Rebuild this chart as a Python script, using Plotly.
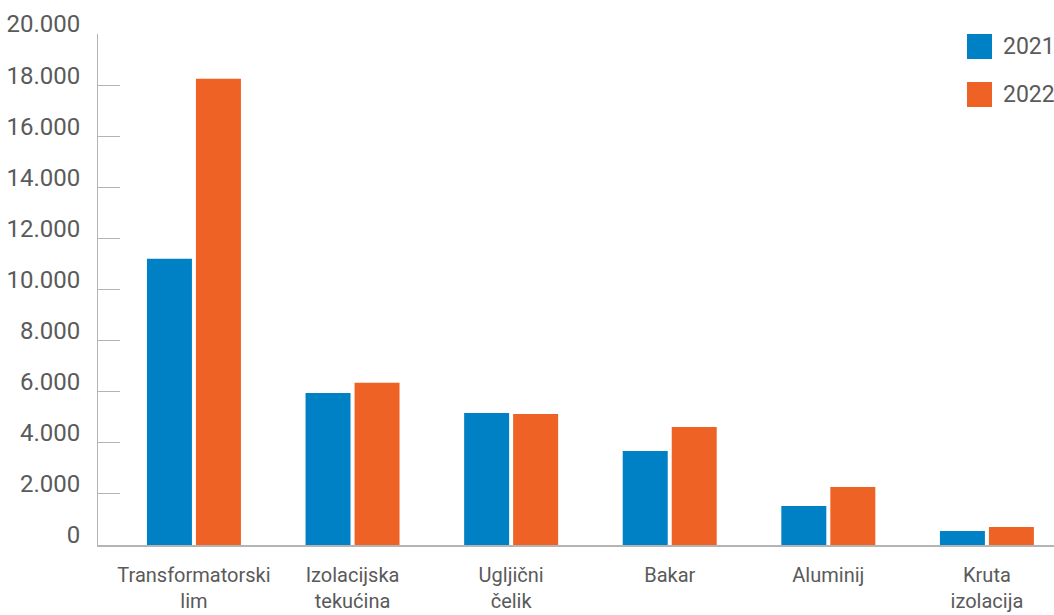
import plotly.graph_objects as go

categories = ["Transformatorski<br>lim", "Izolacijska<br>tekućina", "Ugljični<br>čelik",
              "Bakar", "Aluminij", "Kruta<br>izolacija"]
years = ["2021", "2022"]
values_2021 = [11200, 5950, 5170, 3680, 1530, 550]
values_2022 = [18250, 6350, 5130, 4620, 2270, 700]
tick_vals = [0, 2000, 4000, 6000, 8000, 10000, 12000, 14000, 16000, 18000, 20000]

colors = ["#0081C6", "#EE6325"]
text_color = "#5a5a5a"
font_family = "Roboto"

W, H = 1054, 615
L, T, B = 98, 34, 70
PW, PH = W - L, H - T - B

fig = go.Figure()
for name, vals, col in zip(years, [values_2021, values_2022], colors):
    fig.add_trace(go.Bar(x=list(range(len(categories))), y=vals, name=name,
                         marker=dict(color=col, line=dict(width=0)), showlegend=False))

# legend drawn as large square swatches + text
for i, (name, col) in enumerate(zip(years, colors)):
    top_px = 34 + 48 * i
    fig.add_shape(type="rect", xref="paper", yref="paper",
                  x0=(967 - L) / PW, x1=(992 - L) / PW,
                  y1=1 - (top_px - T) / PH, y0=1 - (top_px - T + 25) / PH,
                  fillcolor=col, line=dict(width=0))
    fig.add_annotation(xref="paper", yref="paper", x=(1001 - L) / PW,
                       y=1 - (top_px - T + 12.5) / PH, text=name, showarrow=False,
                       xanchor="left", yanchor="middle",
                       font=dict(size=23, color=text_color, family=font_family))

fig.update_layout(
    width=W, height=H,
    margin=dict(l=L, r=0, t=T, b=B, pad=0, autoexpand=False),
    paper_bgcolor="white", plot_bgcolor="white",
    separators=",.",
    bargap=0.382, bargroupgap=0.082, barmode="group",
    font=dict(family=font_family, color=text_color),
    xaxis=dict(range=[-0.605, 5.423], tickmode="array", automargin=False,
               tickvals=list(range(len(categories))), ticktext=categories,
               showgrid=False, zeroline=False, showline=True, linecolor="#b4b4b4",
               linewidth=1.5, ticks="", tickfont=dict(size=20, color=text_color),
               ticklabelstandoff=11),
    yaxis=dict(range=[0, 20000], tickmode="array", tickvals=tick_vals, automargin=False,
               tickformat=",d", showgrid=False, zeroline=False, showline=True,
               linecolor="#b4b4b4", linewidth=1, ticks="inside", ticklen=22,
               tickcolor="#b4b4b4", tickwidth=1,
               tickfont=dict(size=24, color=text_color), ticklabelstandoff=12,
               ticklabelshift=-10),
)

fig.write_html("out.html", config={"displayModeBar": False},
               post_script="document.body.style.margin='0';"
                           "document.body.style.overflow='hidden';")
